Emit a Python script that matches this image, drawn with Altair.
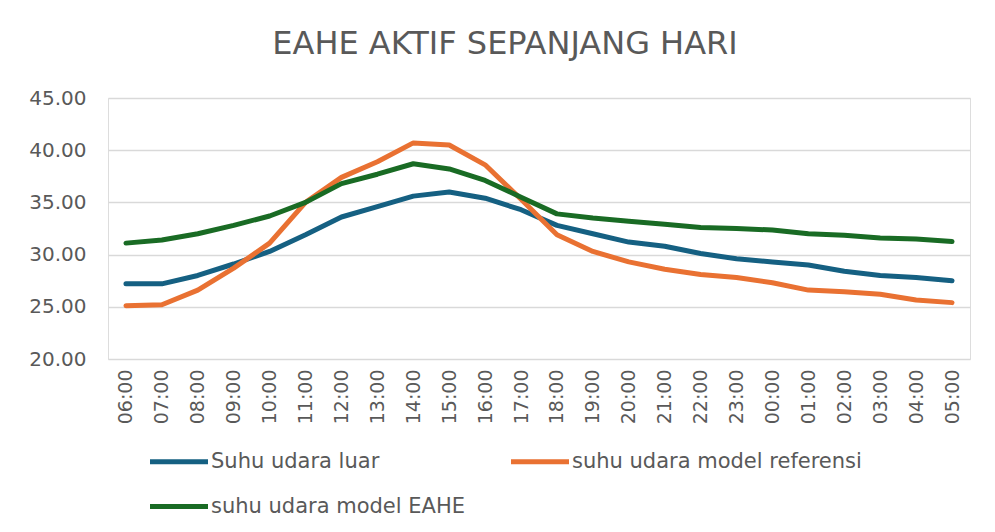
import altair as alt
import pandas as pd

hours = ["06:00", "07:00", "08:00", "09:00", "10:00", "11:00", "12:00", "13:00",
         "14:00", "15:00", "16:00", "17:00", "18:00", "19:00", "20:00", "21:00",
         "22:00", "23:00", "00:00", "01:00", "02:00", "03:00", "04:00", "05:00"]

luar = [27.2, 27.2, 28.0, 29.1, 30.3, 31.9, 33.6, 34.6, 35.6, 36.0, 35.4, 34.3,
        32.8, 32.0, 31.2, 30.8, 30.1, 29.6, 29.3, 29.0, 28.4, 28.0, 27.8, 27.5]
referensi = [25.1, 25.2, 26.6, 28.7, 31.1, 35.0, 37.4, 38.9, 40.7, 40.5, 38.6, 35.3,
             31.9, 30.3, 29.3, 28.6, 28.1, 27.8, 27.3, 26.6, 26.45, 26.2, 25.65, 25.4]
eahe = [31.1, 31.4, 32.0, 32.8, 33.7, 35.0, 36.8, 37.7, 38.7, 38.2, 37.1, 35.5,
        33.9, 33.5, 33.2, 32.9, 32.6, 32.5, 32.35, 32.0, 31.85, 31.6, 31.5, 31.25]

series_names = ["Suhu udara luar", "suhu udara model referensi", "suhu udara model EAHE"]
series_colors = ["#156082", "#E97132", "#196B24"]

rows = []
for name, vals in zip(series_names, [luar, referensi, eahe]):
    for h, v in zip(hours, vals):
        rows.append({"jam": h, "suhu": v, "seri": name})
df = pd.DataFrame(rows)

chart = alt.Chart(df).mark_line(strokeWidth=5, strokeCap="round", strokeJoin="round").encode(
    x=alt.X("jam:O", sort=hours, title=None,
            scale=alt.Scale(type="point", padding=0.5),
            axis=alt.Axis(labelAngle=-90, labelFontSize=19, labelFont="DejaVu Sans",
                          labelColor="#595959", labelPadding=10, ticks=False,
                          domain=False, grid=False)),
    y=alt.Y("suhu:Q", title=None,
            scale=alt.Scale(domain=[20, 45], nice=False, zero=False),
            axis=alt.Axis(values=[20, 25, 30, 35, 40, 45], format=".2f",
                          labelFontSize=20, labelFont="DejaVu Sans", labelColor="#595959",
                          labelPadding=22, ticks=False, domain=False,
                          grid=True, gridColor="#d9d9d9", gridWidth=1.5)),
    color=alt.Color("seri:N", sort=series_names,
                    scale=alt.Scale(domain=series_names, range=series_colors),
                    legend=alt.Legend(title=None, orient="none", legendX=80, legendY=353,
                                      values=series_names, direction="horizontal",
                                      columns=2, columnPadding=36, rowPadding=23,
                                      symbolType="M-9.7,0H1.9", symbolSize=100,
                                      symbolStrokeWidth=5, labelOffset=2,
                                      labelFont="DejaVu Sans", labelFontSize=21,
                                      labelColor="#595959", labelLimit=400)),
).properties(
    width=862,
    height=261,
    title=alt.TitleParams("EAHE AKTIF SEPANJANG HARI", font="DejaVu Sans",
                          fontSize=32, fontWeight="normal", color="#595959",
                          anchor="middle", dx=-34, offset=27),
    autosize=alt.AutoSizeParams(type="none"),
    padding={"left": 100, "top": 90, "right": 17, "bottom": 165},
).configure_view(stroke=None).configure(background="white")

chart.save("out.html", embed_options={"renderer": "svg", "actions": False})
